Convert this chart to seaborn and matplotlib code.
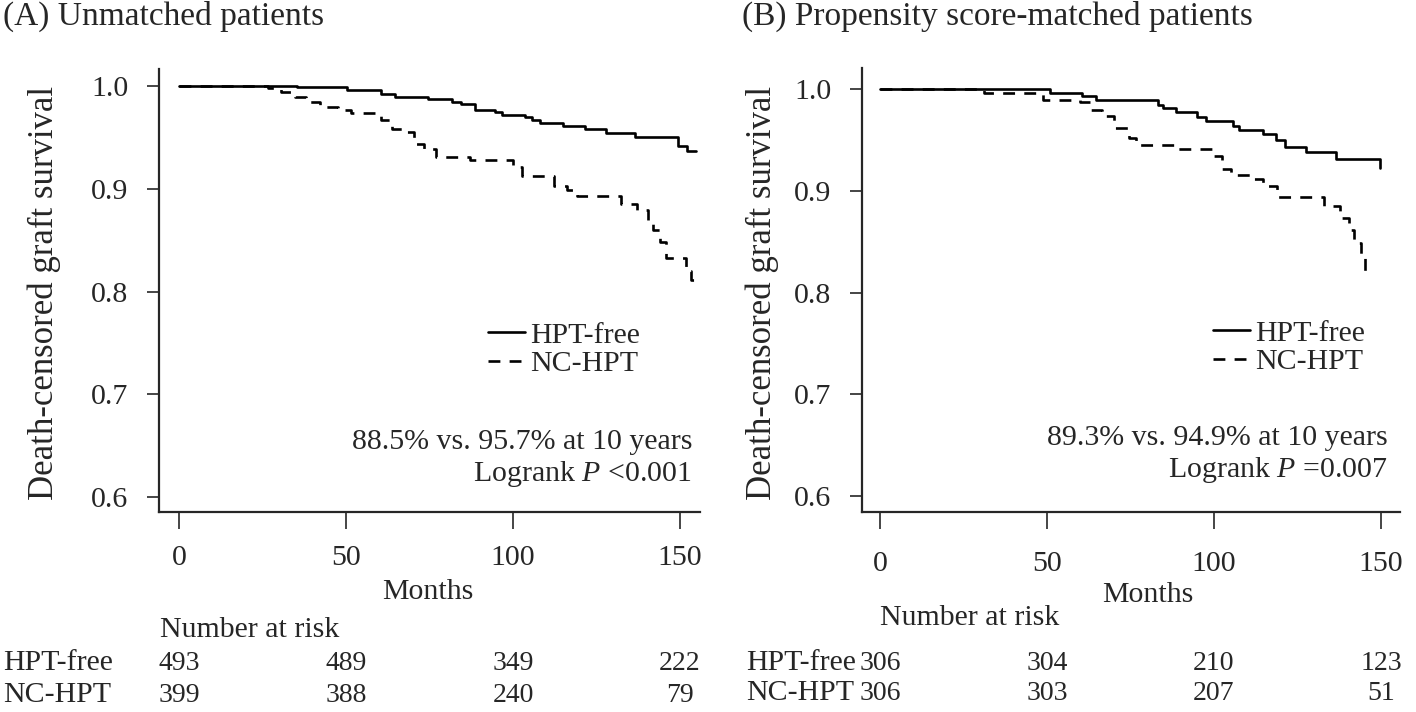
import pandas as pd
import numpy as np
import matplotlib
matplotlib.use('Agg')
import matplotlib.pyplot as plt
import seaborn as sns

# Kaplan-Meier step values (months, survival)
a_free_t = [0, 35.2, 50.3, 60.6, 64.6, 74.6, 81.6, 84.3, 88.6, 94.5, 96.7, 103.7, 105.8,
            108.0, 115.0, 121.5, 127.9, 136.6, 149.5, 152.2, 154.9]
a_free_s = [1.0, 0.9987, 0.996, 0.992, 0.9896, 0.987, 0.9847, 0.982, 0.977, 0.975, 0.972,
            0.970, 0.967, 0.964, 0.961, 0.958, 0.954, 0.950, 0.9415, 0.937, 0.937]
a_nc_t = [0, 26.6, 30.4, 34.7, 38.0, 42.3, 47.7, 51.4, 60.6, 63.8, 68.1, 70.3, 73.5, 76.8,
          87.0, 99.9, 102.6, 112.3, 116.1, 119.3, 132.3, 137.1, 140.4, 142.0, 144.1, 145.7,
          151.7, 153.3, 154.9]
a_nc_s = [1.0, 0.9977, 0.9938, 0.989, 0.984, 0.980, 0.977, 0.974, 0.967, 0.958, 0.955,
          0.944, 0.939, 0.931, 0.928, 0.921, 0.912, 0.903, 0.899, 0.893, 0.885, 0.879,
          0.869, 0.860, 0.848, 0.833, 0.820, 0.811, 0.811]

b_free_t = [0, 50.8, 60.6, 64.7, 83.1, 84.7, 88.7, 94.8, 97.5, 105.8, 107.6, 114.6, 118.7,
            121.2, 127.6, 136.5, 149.6, 149.8]
b_free_s = [1.0, 0.996, 0.9937, 0.9895, 0.985, 0.982, 0.978, 0.973, 0.969, 0.964, 0.960,
            0.956, 0.950, 0.943, 0.938, 0.931, 0.923, 0.923]
b_nc_t = [0, 31.0, 48.9, 59.9, 63.3, 66.5, 70.2, 74.5, 76.6, 87.9, 99.6, 102.3, 105.0, 111.4,
          114.6, 118.9, 132.8, 137.6, 140.3, 141.9, 144.0, 145.1, 145.2]
b_nc_s = [1.0, 0.996, 0.9895, 0.9872, 0.980, 0.974, 0.962, 0.952, 0.945, 0.941, 0.934, 0.922,
          0.916, 0.912, 0.905, 0.894, 0.885, 0.873, 0.862, 0.849, 0.834, 0.813, 0.813]

groups = ['HPT-free', 'NC-HPT']
risk_months = [0, 50, 100, 150]
a_risk_free = [493, 489, 349, 222]
a_risk_nc = [399, 388, 240, 79]
b_risk_free = [306, 304, 210, 123]
b_risk_nc = [306, 303, 207, 51]

sns.set_style('ticks')
plt.rcParams['font.family'] = ['Liberation Serif', 'DejaVu Serif']
plt.rcParams['mathtext.fontset'] = 'custom'
plt.rcParams['mathtext.rm'] = 'Liberation Serif'
plt.rcParams['mathtext.it'] = 'Liberation Serif:italic'

FS = 21.5
NUM_FS = 20
W, H = 1416, 712


def make_df(t1, s1, t2, s2):
    d1 = pd.DataFrame({'month': t1, 'surv': s1, 'group': groups[0]})
    d2 = pd.DataFrame({'month': t2, 'surv': s2, 'group': groups[1]})
    return pd.concat([d1, d2], ignore_index=True)


def fx(px):
    return px / W


def fy(py):
    return 1 - py / H


def draw_panel(ax, df, xlim, ylim, tick_y, leg_xy):
    sns.lineplot(data=df, x='month', y='surv', style='group', color='black',
                 dashes={'HPT-free': '', 'NC-HPT': (4.5, 3.5)}, drawstyle='steps-post',
                 estimator=None, sort=False, linewidth=1.9, legend=False, ax=ax)
    ax.set_xlim(*xlim)
    ax.set_ylim(*ylim)
    ax.set_xticks(risk_months)
    ax.set_yticks([0.6, 0.7, 0.8, 0.9, 1.0])
    ax.set_yticklabels(['0.6', '0.7', '0.8', '0.9', '1.0'])
    sns.despine(ax=ax)
    for sp in ['left', 'bottom']:
        ax.spines[sp].set_linewidth(1.6)
    ax.tick_params(axis='y', length=9, width=1.2, pad=13, labelsize=FS)
    ax.tick_params(axis='x', length=12, width=1.2, pad=tick_y, labelsize=FS)
    ax.set_xlabel('')
    ax.set_ylabel('')
    lines = ax.get_lines()
    ax.legend(lines[:2], groups, loc='upper left', frameon=False, fontsize=FS,
              bbox_to_anchor=leg_xy, bbox_transform=fig.transFigure,
              borderaxespad=0, borderpad=0, handlelength=1.25, handletextpad=0.15,
              labelspacing=0.05)


fig = plt.figure(figsize=(14.16, 7.12), dpi=100)
ax_a = fig.add_axes([fx(159), fy(512), fx(700) - fx(159), fy(69) - fy(512)])
ax_b = fig.add_axes([fx(862), fy(512), fx(1400) - fx(862), fy(68) - fy(512)])

draw_panel(ax_a, make_df(a_free_t, a_free_s, a_nc_t, a_nc_s), (-6.0, 156.0),
           (0.5855, 1.0165), 12, (fx(488), fy(322)))
draw_panel(ax_b, make_df(b_free_t, b_free_s, b_nc_t, b_nc_s), (-5.4, 155.7),
           (0.584, 1.021), 16, (fx(1213), fy(320)))

# titles
fig.text(fx(3), fy(16), '(A) Unmatched patients', fontsize=24, va='center', ha='left')
fig.text(fx(742), fy(16), '(B) Propensity score-matched patients', fontsize=24,
         va='center', ha='left')

# y labels
fig.text(fx(44), fy(293), 'Death-censored graft survival', fontsize=25, rotation=90,
         va='center', ha='center')
fig.text(fx(762), fy(293), 'Death-censored graft survival', fontsize=25, rotation=90,
         va='center', ha='center')

# x labels
fig.text(fx(428), fy(592), 'Months', fontsize=FS, va='center', ha='center')
fig.text(fx(1148), fy(595), 'Months', fontsize=FS, va='center', ha='center')

# annotations
fig.text(fx(692), fy(442), '88.5% vs. 95.7% at 10 years', fontsize=FS, va='center', ha='right')
fig.text(fx(692), fy(474), 'Logrank $P$ <0.001', fontsize=FS, va='center', ha='right')
fig.text(fx(1388), fy(438), '89.3% vs. 94.9% at 10 years', fontsize=FS, va='center', ha='right')
fig.text(fx(1388), fy(470), 'Logrank $P$ =0.007', fontsize=FS, va='center', ha='right')

# number at risk tables
fig.text(fx(160), fy(630), 'Number at risk', fontsize=FS, va='center', ha='left')
fig.text(fx(880), fy(618), 'Number at risk', fontsize=FS, va='center', ha='left')
fig.text(fx(3), fy(663), 'HPT-free', fontsize=FS, va='center', ha='left')
fig.text(fx(3), fy(695), 'NC-HPT', fontsize=FS, va='center', ha='left')
fig.text(fx(746), fy(663), 'HPT-free', fontsize=FS, va='center', ha='left')
fig.text(fx(746), fy(693), 'NC-HPT', fontsize=FS, va='center', ha='left')

for ax, rf, rn, y1, y2 in [(ax_a, a_risk_free, a_risk_nc, 663, 695),
                           (ax_b, b_risk_free, b_risk_nc, 663, 693)]:
    for m, v1, v2 in zip(risk_months, rf, rn):
        xt = ax.transData.transform((m, 1.0))[0] / W
        fig.text(xt, fy(y1), str(v1), fontsize=NUM_FS, va='center', ha='center')
        fig.text(xt, fy(y2), str(v2), fontsize=NUM_FS, va='center', ha='center')

fig.savefig('out.png', dpi=100)
